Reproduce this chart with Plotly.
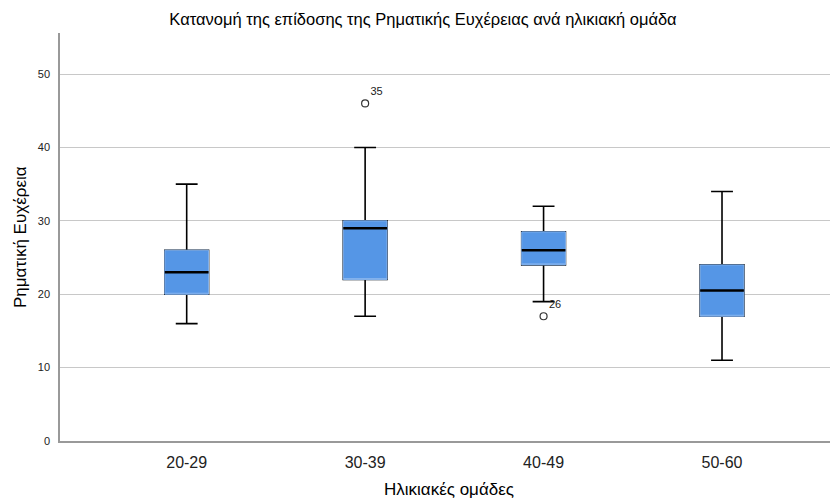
import plotly.graph_objects as go

groups = ["20-29", "30-39", "40-49", "50-60"]
lower_whisker = [16, 17, 19, 11]
q1_vals = [20, 22, 24, 17]
median_vals = [23, 29, 26, 20.5]
q3_vals = [26, 30, 28.5, 24]
upper_whisker = [35, 40, 32, 34]

outlier_groups = ["30-39", "40-49"]
outlier_values = [46, 17]
outlier_labels = ["35", "26"]

FONT = "Arial, Liberation Sans, sans-serif"
BOX_W = 0.245
FILL = "#5596e6"

fig = go.Figure()

# whiskers + caps (black)
fig.add_trace(go.Box(
    x=groups, q1=q1_vals, median=median_vals, q3=q3_vals,
    lowerfence=lower_whisker, upperfence=upper_whisker,
    width=BOX_W, whiskerwidth=0.5,
    line=dict(color="black", width=1.6), fillcolor=FILL,
    boxpoints=False, hoverinfo="skip", showlegend=False,
))
# blue box body covering outline
fig.add_trace(go.Box(
    x=groups, q1=q1_vals, median=q1_vals, q3=q3_vals,
    lowerfence=q1_vals, upperfence=q3_vals,
    width=BOX_W, whiskerwidth=0,
    line=dict(color="#86b4ee", width=1), fillcolor=FILL,
    boxpoints=False, hoverinfo="skip", showlegend=False,
))
# median line
fig.add_trace(go.Box(
    x=groups, q1=median_vals, median=median_vals, q3=median_vals,
    lowerfence=median_vals, upperfence=median_vals,
    width=BOX_W, whiskerwidth=0,
    line=dict(color="black", width=2.6), fillcolor="rgba(0,0,0,0)",
    boxpoints=False, hoverinfo="skip", showlegend=False,
))
# outliers
fig.add_trace(go.Scatter(
    x=outlier_groups, y=outlier_values, mode="markers+text",
    text=outlier_labels, textposition="top right",
    textfont=dict(family=FONT, size=11, color="#222"),
    marker=dict(symbol="circle-open", size=7, color="#333", line=dict(width=1.2)),
    showlegend=False, hoverinfo="skip", cliponaxis=False,
))

# page body has an 8px margin: figure is sized/offset to compensate
fig.update_layout(
    width=830, height=491,
    margin=dict(l=52, r=0, t=25, b=58),
    paper_bgcolor="white", plot_bgcolor="white",
    boxmode="overlay",
    title=dict(text="Κατανομή της επίδοσης της Ρηματικής Ευχέρειας ανά ηλικιακή ομάδα",
               x=0.5, xanchor="center", y=0.978, yanchor="middle",
               font=dict(family=FONT, size=16.5, color="black")),
    font=dict(family=FONT, color="black"),
    annotations=[
        dict(text="Ηλικιακές ομάδες", xref="paper", yref="paper",
             x=0.5, y=-0.118, xanchor="center", yanchor="middle", showarrow=False,
             font=dict(family=FONT, size=17, color="black")),
        dict(text="Ρηματική Ευχέρεια", xref="paper", yref="paper",
             x=-0.0514, y=0.50, xanchor="center", yanchor="middle", showarrow=False,
             textangle=-90, font=dict(family=FONT, size=17, color="black")),
    ],
)
fig.update_xaxes(
    type="category", categoryorder="array", categoryarray=groups,
    range=[-0.71, 3.65], automargin=False,
    showgrid=False, showline=True, linecolor="#999", linewidth=1.5,
    ticks="", tickfont=dict(size=16, color="#222"), ticklabelstandoff=6,
    zeroline=False,
)
fig.update_yaxes(
    range=[0, 55.6], tickvals=[0, 10, 20, 30, 40, 50], automargin=False,
    showgrid=True, gridcolor="#c8c8c8", gridwidth=1,
    showline=True, linecolor="#999", linewidth=1.5,
    ticks="", tickfont=dict(size=11, color="#222"), ticklabelstandoff=6,
    zeroline=False,
)

fig.write_html("out.html")
